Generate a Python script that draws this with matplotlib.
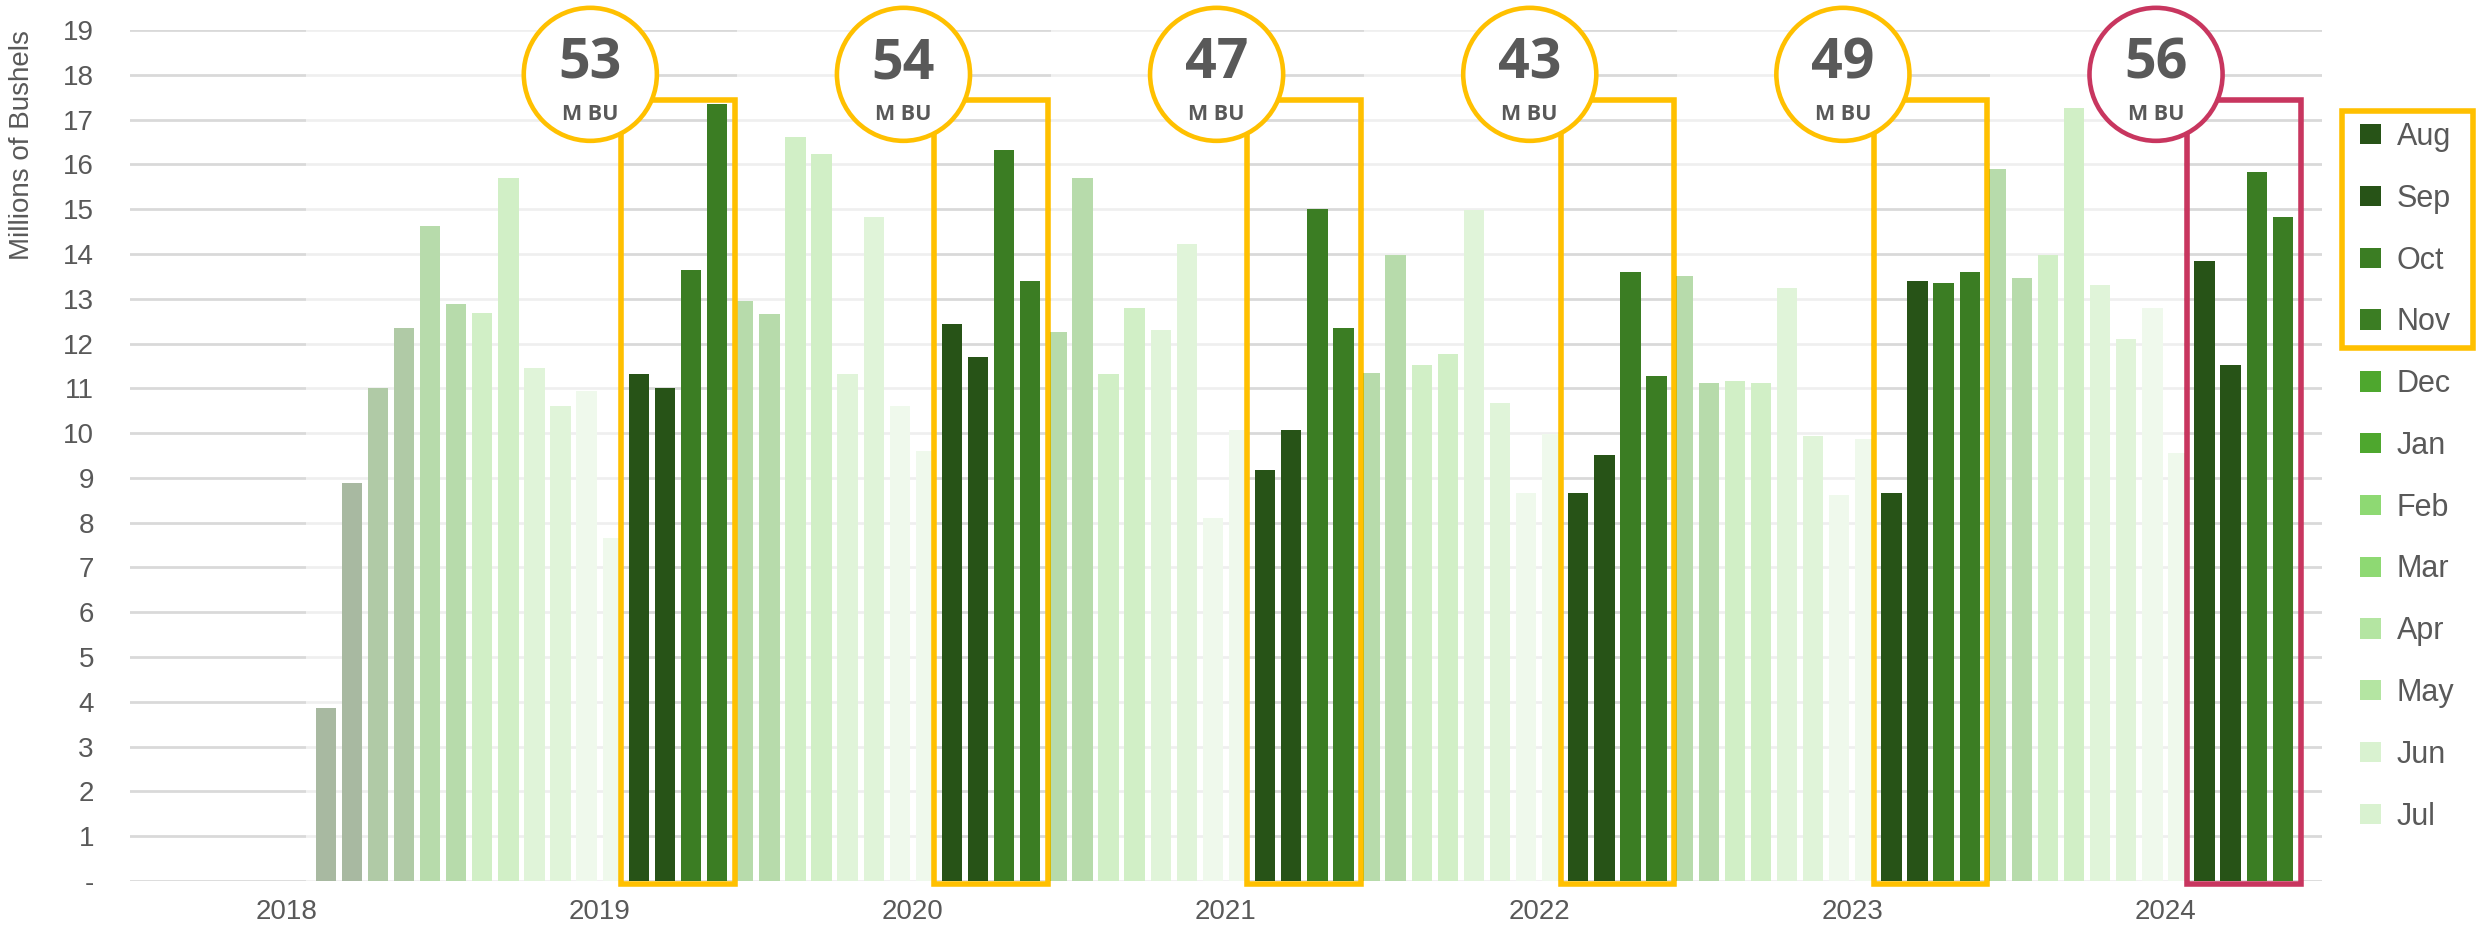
import matplotlib.pyplot as plt
import matplotlib.patches as mpatches
import numpy as np

# marketing-year monthly shipments (Aug..Jul), millions of bushels
months = ['Aug', 'Sep', 'Oct', 'Nov', 'Dec', 'Jan', 'Feb', 'Mar', 'Apr', 'May', 'Jun', 'Jul']
years = [2018, 2019, 2020, 2021, 2022, 2023, 2024]
my2018 = [3.87, 8.89, 11.01, 12.35, 14.62, 12.88, 12.68, 15.70, 11.46, 10.61, 10.93, 7.66]
my2019 = [11.32, 11.01, 13.64, 17.34, 12.94, 12.66, 16.60, 16.23, 11.31, 14.82, 10.61, 9.61]
my2020 = [12.44, 11.71, 16.32, 13.40, 12.26, 15.70, 11.31, 12.80, 12.31, 14.22, 8.10, 10.08]
my2021 = [9.17, 10.07, 15.01, 12.34, 11.34, 13.98, 11.51, 11.76, 14.99, 10.67, 8.66, 9.99]
my2022 = [8.66, 9.52, 13.60, 11.28, 13.50, 11.12, 11.16, 11.12, 13.23, 9.93, 8.61, 9.87]
my2023 = [8.66, 13.40, 13.35, 13.60, 15.90, 13.46, 13.97, 17.26, 13.30, 12.10, 12.79, 9.56]
my2024 = [13.85, 11.51, 15.83, 14.82]
series = [my2018, my2019, my2020, my2021, my2022, my2023, my2024]

# years whose Aug-Nov window is boxed, last one in red
boxed_years = [2019, 2020, 2021, 2022, 2023, 2024]

month_colors = ['#275317', '#275317', '#3b7d23', '#3b7d23', '#4ea72e', '#4ea72e',
                '#8ed973', '#8ed973', '#b4e5a2', '#b4e5a2', '#d9f2d0', '#d9f2d0']
gold = '#ffc000'
rose = '#c8365f'
grey = '#595959'

W, H = 2476, 933
fig = plt.figure(figsize=(W / 100, H / 100), dpi=100)
ax = fig.add_axes([130 / W, (H - 881) / H, (2322 - 130) / W, (881 - 30) / H])

bar_w = 0.78
for k, vals in enumerate(series):
    x = 12 * k + np.arange(len(vals))
    ax.bar(x, vals, width=bar_w, color=month_colors[:len(vals)], zorder=1)

ax.set_xlim(-7.5, 76.5)
ax.set_ylim(0, 19)
ax.set_yticks(range(0, 20))
ax.set_yticklabels(['-'] + [str(v) for v in range(1, 20)])
ax.set_xticks([12 * k - 1.5 for k in range(len(years))])
ax.set_xticklabels([str(y) for y in years])
ax.yaxis.grid(True, color='#d9d9d9', linewidth=2)
ax.set_axisbelow(True)
for s in ax.spines.values():
    s.set_visible(False)
ax.tick_params(axis='both', length=0, labelsize=20, labelcolor=grey)
ax.tick_params(axis='y', pad=26)
ax.tick_params(axis='x', pad=13)
for lab in ax.get_xticklabels() + ax.get_yticklabels():
    lab.set_fontfamily('Liberation Sans')

# white wash over everything except the boxed Aug-Nov windows
edges = [-0.75]
for y in boxed_years:
    k = y - 2018
    edges += [12 * k - bar_w, 12 * k + 3 + bar_w]
for a, b in zip(edges[0::2], edges[1::2]):
    ax.add_patch(mpatches.Rectangle((a, -0.5), b - a, 20, facecolor='white',
                                    alpha=0.6, edgecolor='none', zorder=2))

for y in boxed_years:
    k = y - 2018
    col = rose if y == 2024 else gold
    aug = 12 * k
    ax.add_patch(mpatches.Rectangle((aug - 0.68, -0.07), 3 + 2 * 0.68, 17.5,
                                    facecolor='none', edgecolor=col, linewidth=4,
                                    zorder=3, clip_on=False))
    cx = aug - 1.86
    ax.add_patch(mpatches.Ellipse((cx, 18.01), 5.1, 2.97, facecolor='white',
                                  edgecolor=col, linewidth=3.3, zorder=4, clip_on=False))
    total = round(sum(series[k][:4]))
    ax.text(cx, 17.92, str(total), ha='center', va='baseline', fontsize=40,
            fontweight='bold', color=grey, family='Open Sans', zorder=5)
    ax.text(cx, 17.0, 'M BU', ha='center', va='baseline', fontsize=15.5,
            fontweight='bold', color=grey, family='Open Sans', zorder=5)

fig.text(22 / W, 1 - 30 / H, 'Millions of Bushels', rotation=90, ha='center', va='top',
         fontsize=20, color=grey, family='Liberation Sans')

handles = [mpatches.Patch(facecolor=c, edgecolor='none') for c in month_colors]
leg = fig.legend(handles, months, loc='upper left',
                 bbox_to_anchor=(2360 / W, 1 - 122 / H), frameon=False,
                 handlelength=0.69, handleheight=0.65,
                 handletextpad=0.52, labelspacing=1.04, borderpad=0, borderaxespad=0,
                 prop={'family': 'Liberation Sans', 'size': 22})
for t in leg.get_texts():
    t.set_color(grey)

fig.patches.append(mpatches.Rectangle((2342 / W, 1 - 348 / H), (2473 - 2342) / W,
                                      (348 - 111) / H, transform=fig.transFigure,
                                      facecolor='none', edgecolor=gold, linewidth=4))

plt.savefig('out.png', dpi=100)
